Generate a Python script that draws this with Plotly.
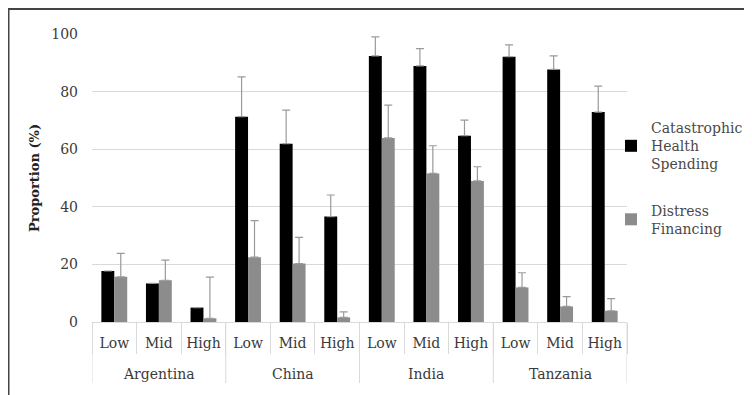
import plotly.graph_objects as go

countries = ["Argentina", "China", "India", "Tanzania"]
levels = ["Low", "Mid", "High"]

chs_values = [17.7, 13.4, 5.0, 71.3, 61.9, 36.6, 92.4, 88.9, 64.7, 92.1, 87.7, 72.9]
chs_err_top = [None, None, None, 85.1, 73.6, 44.1, 99.0, 94.9, 70.1, 96.2, 92.4, 81.9]
df_values = [15.7, 14.5, 1.3, 22.5, 20.3, 1.6, 63.9, 51.6, 49.0, 12.0, 5.4, 3.9]
df_err_top = [23.8, 21.5, 15.6, 35.2, 29.4, 3.5, 75.3, 61.2, 53.9, 17.1, 8.8, 8.1]
y_ticks = [0, 20, 40, 60, 80, 100]

n_lv = len(levels)
n = len(countries) * n_lv
xs = list(range(n))
inner = [l for _ in countries for l in levels]

def plus(vals, tops):
    return [0 if t is None else round(t - v, 2) for v, t in zip(vals, tops)]

FONT = "DejaVu Serif, Liberation Serif, serif"
TXT = "#3a3a3a"
DIV = "#d9d9d9"
fig = go.Figure()
fig.add_trace(go.Bar(
    x=xs, y=chs_values, name="Catastrophic<br>Health<br>Spending",
    marker=dict(color="#000000", line=dict(width=0)),
    error_y=dict(type="data", symmetric=False, array=plus(chs_values, chs_err_top),
                 arrayminus=[0] * n, color="#9a9a9a", thickness=1.2, width=4),
    legendgroup="a",
))
fig.add_trace(go.Bar(
    x=xs, y=df_values, name="Distress<br>Financing",
    marker=dict(color="#8c8c8c", line=dict(width=0)),
    error_y=dict(type="data", symmetric=False, array=plus(df_values, df_err_top),
                 arrayminus=[0] * n, color="#9a9a9a", thickness=1.2, width=4),
    legendgroup="b",
))

# page has an 8px body margin: figure drawn from (8, 8)
W, H = 744, 387
L, T = 84, 26
R = W - (627 - 8)
B = H - (322 - 8)
pw, ph = W - L - R, H - T - B

# country labels and group dividers below the axis
annotations = []
shapes = []
for k, c in enumerate(countries):
    annotations.append(dict(x=k * n_lv + (n_lv - 1) / 2, y=-(374 - 322) / ph, xref="x", yref="paper",
                            text=c, showarrow=False, yanchor="middle",
                            font=dict(family=FONT, size=14, color=TXT)))
for k in range(len(countries) + 1):
    shapes.append(dict(type="line", xref="x", yref="paper", x0=k * n_lv - 0.5, x1=k * n_lv - 0.5,
                       y0=0, y1=-(383 - 322) / ph, line=dict(color=DIV, width=1)))
shapes.append(dict(type="rect", xref="paper", yref="paper",
                   x0=(0.5 - L) / pw, x1=1.5, y0=-0.5, y1=1 + (T - 1) / ph,
                   line=dict(color="#444444", width=2), fillcolor="rgba(0,0,0,0)", layer="below"))

fig.update_layout(
    width=W, height=H,
    margin=dict(l=L, r=R, t=T, b=B, autoexpand=False),
    paper_bgcolor="white", plot_bgcolor="white",
    barmode="group", bargap=0.42, bargroupgap=0,
    font=dict(family=FONT, size=14, color=TXT),
    legend=dict(x=(603 - L) / pw, y=1 - (104 - T) / ph, xanchor="left", yanchor="top",
                font=dict(family=FONT, size=14, color="#4a4a4a"),
                tracegroupgap=25, itemwidth=30, bgcolor="rgba(0,0,0,0)"),
    annotations=annotations,
    shapes=shapes,
)
fig.update_xaxes(
    range=[-0.5, n - 0.5], tickvals=xs, ticktext=inner,
    showgrid=False, showline=True, linecolor=DIV, linewidth=1, zeroline=False,
    ticks="", tickangle=0, automargin=False, ticklabelstandoff=8,
    minor=dict(ticks="outside", tick0=-0.5, dtick=1, ticklen=31, tickcolor=DIV, tickwidth=1, showgrid=False),
    tickfont=dict(family=FONT, size=14, color=TXT),
)
fig.update_yaxes(
    range=[0, 100], tickvals=y_ticks, showgrid=True, gridcolor=DIV, gridwidth=1,
    zeroline=False, showline=False, ticks="", ticklabelstandoff=13, automargin=False,
    tickfont=dict(family=FONT, size=14, color=TXT),
    title=dict(text="<b>Proportion (%)</b>", font=dict(family=FONT, size=13, color="#222222"), standoff=8),
)
fig.write_html("out.html")
